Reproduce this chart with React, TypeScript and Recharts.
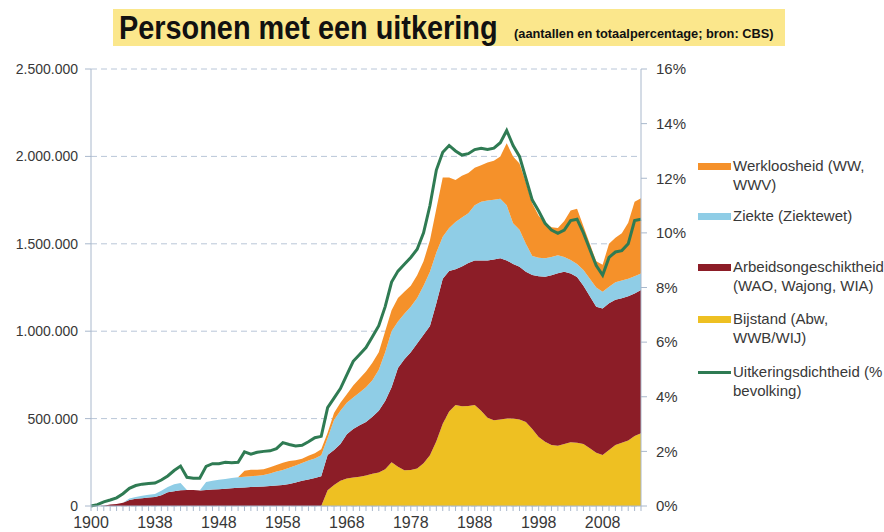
import React from 'react';
import { ComposedChart, Area, Line, XAxis, YAxis, CartesianGrid } from 'recharts';

// Categories (the first ten are unevenly spaced early years)
const years = [
  '1900', '1905', '1910', '1915', '1920', '1925', '1930', '1935', '1936', '1937',
  '1938', '1939', '1940', '1941', '1942', '1943', '1944', '1945', '1946', '1947',
  '1948', '1949', '1950', '1951', '1952', '1953', '1954', '1955', '1956', '1957',
  '1958', '1959', '1960', '1961', '1962', '1963', '1964', '1965', '1966', '1967',
  '1968', '1969', '1970', '1971', '1972', '1973', '1974', '1975', '1976', '1977',
  '1978', '1979', '1980', '1981', '1982', '1983', '1984', '1985', '1986', '1987',
  '1988', '1989', '1990', '1991', '1992', '1993', '1994', '1995', '1996', '1997',
  '1998', '1999', '2000', '2001', '2002', '2003', '2004', '2005', '2006', '2007',
  '2008', '2009', '2010', '2011', '2012', '2013', '2014',
];

const xLabels = ['1900', '1938', '1948', '1958', '1968', '1978', '1988', '1998', '2008'];

// Values in thousands of persons
const bijstand = [
  0, 0, 0, 0, 0, 0, 0, 0, 0, 0,
  0, 0, 0, 0, 0, 0, 0, 0, 0, 0,
  0, 0, 0, 0, 0, 0, 0, 0, 0, 0,
  0, 0, 0, 0, 0, 0, 0, 90, 120, 145,
  158, 163, 168, 175, 185, 192, 210, 250, 225, 205,
  206, 215, 245, 290, 370, 470, 540, 578, 570, 572,
  578, 545, 505, 490, 495, 500, 500, 495, 480, 440,
  395, 368, 349, 345, 355, 364, 362, 355, 330, 305,
  292, 320, 349, 362, 375, 400, 416,
];

const arbeidsongeschiktheid = [
  0, 0, 2, 8, 12, 18, 35, 42, 45, 48,
  51, 62, 78, 85, 90, 92, 92, 88, 92, 95,
  96, 98, 102, 104, 106, 108, 110, 112, 114, 117,
  120, 126, 135, 145, 152, 160, 170, 202, 200, 210,
  252, 277, 294, 305, 325, 353, 390, 430, 565, 635,
  674, 715, 735, 740, 790, 830, 805, 777, 800, 818,
  827, 860, 900, 920, 922, 905, 885, 874, 860, 881,
  920, 944, 971, 987, 985, 966, 948, 905, 870, 835,
  838, 840, 831, 826, 825, 815, 820,
];

const ziekte = [
  0, 0, 0, 0, 0, 0, 8, 10, 14, 16,
  18, 25, 30, 40, 42, 0, 0, 0, 45, 50,
  54, 57, 58, 60, 61, 62, 63, 65, 72, 80,
  86, 93, 97, 101, 108, 112, 120, 97, 172, 190,
  180, 180, 188, 200, 210, 235, 280, 320, 265, 260,
  260, 260, 280, 310, 290, 240, 245, 270, 280, 285,
  315, 335, 343, 342, 341, 315, 232, 211, 160, 109,
  105, 105, 105, 103, 85, 77, 75, 90, 100, 110,
  95, 95, 100, 102, 100, 100, 94,
];

const werkloosheid = [
  0, 0, 0, 0, 0, 0, 0, 0, 0, 0,
  0, 0, 0, 0, 0, 0, 0, 0, 0, 0,
  0, 0, 0, 0, 35, 38, 35, 33, 35, 38,
  42, 38, 30, 25, 28, 30, 35, 30, 40, 45,
  50, 70, 80, 90, 100, 100, 120, 120, 135, 125,
  120, 130, 140, 180, 250, 340, 290, 240, 240, 230,
  215, 210, 217, 223, 242, 355, 383, 380, 350, 300,
  240, 203, 170, 155, 205, 283, 315, 250, 200, 150,
  155, 245, 255, 270, 320, 425, 430,
];

// Uitkeringsdichtheid, % of population
const dichtheid = [
  0, 0.05, 0.15, 0.22, 0.3, 0.45, 0.65, 0.75, 0.8, 0.82,
  0.84, 0.95, 1.1, 1.3, 1.46, 1.05, 1.02, 1.02, 1.45, 1.55,
  1.55, 1.6, 1.58, 1.6, 1.98, 1.9, 1.97, 2.0, 2.02, 2.1,
  2.32, 2.25, 2.2, 2.22, 2.35, 2.5, 2.55, 3.6, 3.95, 4.3,
  4.8, 5.3, 5.55, 5.8, 6.2, 6.6, 7.3, 8.2, 8.6, 8.85,
  9.1, 9.4, 10.0, 11.0, 12.3, 12.95, 13.2, 13.0, 12.85, 12.9,
  13.05, 13.1, 13.05, 13.1, 13.3, 13.75, 13.2, 12.8, 12.0, 11.2,
  10.8, 10.35, 10.1, 9.98, 10.1, 10.45, 10.5, 10.0, 9.4, 8.8,
  8.45, 9.1, 9.3, 9.35, 9.6, 10.45, 10.5,
];

const leftTicks = [0, 500, 1000, 1500, 2000, 2500];
const rightTicks = [0, 2, 4, 6, 8, 10, 12, 14, 16];

const COLORS = {
  werkloosheid: '#f5912a',
  ziekte: '#8fcde6',
  arbeid: '#8c1d27',
  bijstand: '#eec022',
  dichtheid: '#2f7b53',
};

const legendItems = [
  { lines: ['Werkloosheid (WW,', 'WWV)'], color: COLORS.werkloosheid, kind: 'area', y: 166 },
  { lines: ['Ziekte (Ziektewet)'], color: COLORS.ziekte, kind: 'area', y: 216 },
  { lines: ['Arbeidsongeschiktheid', '(WAO, Wajong, WIA)'], color: COLORS.arbeid, kind: 'area', y: 267 },
  { lines: ['Bijstand (Abw,', 'WWB/WIJ)'], color: COLORS.bijstand, kind: 'area', y: 319 },
  { lines: ['Uitkeringsdichtheid (%', 'bevolking)'], color: COLORS.dichtheid, kind: 'line', y: 372 },
];

const data = years.map((year, i) => ({
  year,
  bijstand: bijstand[i],
  arbeid: arbeidsongeschiktheid[i],
  ziekte: ziekte[i],
  werkloosheid: werkloosheid[i],
  dichtheid: dichtheid[i],
}));

const fmtThousands = (v: number) =>
  String(v * 1000).replace(/\B(?=(\d{3})+(?!\d))/g, '.');

const FONT = '"Liberation Sans", Arial, sans-serif';
const AXIS = '#a9b8cc';
const TEXT = '#383838';

export default function App() {
  return (
    <div style={{ position: 'absolute', left: 0, top: 0, width: 884, height: 532, background: '#fff', fontFamily: FONT }}>
      <ComposedChart
        width={884}
        height={532}
        data={data}
        margin={{ top: 69, right: 183, bottom: 0, left: 8 }}
      >
        <CartesianGrid yAxisId="left" vertical={false} stroke="#b9c6d8" strokeDasharray="6 4" />
        <XAxis
          dataKey="year"
          scale="point"
          padding={{ left: 0, right: 0 }}
          interval={0}
          height={26}
          tickSize={5}
          tickMargin={6}
          tickLine={{ stroke: AXIS }}
          axisLine={{ stroke: AXIS }}
          tick={{ fontSize: 16, fill: TEXT }}
          tickFormatter={(v: string) => (xLabels.includes(v) ? v : '')}
        />
        <YAxis
          yAxisId="left"
          domain={[0, 2500]}
          ticks={leftTicks}
          width={83}
          tickSize={6}
          tickMargin={7}
          tickLine={{ stroke: AXIS }}
          axisLine={{ stroke: AXIS }}
          tick={{ fontSize: 14, fill: TEXT }}
          tickFormatter={fmtThousands}
        />
        <YAxis
          yAxisId="right"
          orientation="right"
          domain={[0, 16]}
          ticks={rightTicks}
          width={60}
          tickSize={6}
          tickMargin={9}
          tickLine={{ stroke: AXIS }}
          axisLine={{ stroke: AXIS }}
          tick={{ fontSize: 15, fill: TEXT }}
          tickFormatter={(v: number) => `${v}%`}
        />
        <Area yAxisId="left" type="linear" dataKey="bijstand" stackId="s" fill={COLORS.bijstand} stroke="none" fillOpacity={1} isAnimationActive={false} />
        <Area yAxisId="left" type="linear" dataKey="arbeid" stackId="s" fill={COLORS.arbeid} stroke="none" fillOpacity={1} isAnimationActive={false} />
        <Area yAxisId="left" type="linear" dataKey="ziekte" stackId="s" fill={COLORS.ziekte} stroke="none" fillOpacity={1} isAnimationActive={false} />
        <Area yAxisId="left" type="linear" dataKey="werkloosheid" stackId="s" fill={COLORS.werkloosheid} stroke="none" fillOpacity={1} isAnimationActive={false} />
        <Line yAxisId="right" type="linear" dataKey="dichtheid" stroke={COLORS.dichtheid} strokeWidth={3} dot={false} isAnimationActive={false} />
      </ComposedChart>

      <svg style={{ position: 'absolute', left: 0, top: 0 }} width={884} height={60}>
        <rect x={113} y={9} width={672} height={37} fill="#fbe78c" />
        <g transform="translate(119,39) scale(0.875,1)">
          <text x={0} y={0} fontSize={33} fontWeight="bold" fill="#111" fontFamily={FONT}>
            Personen met een uitkering
          </text>
        </g>
        <text x={514} y={38} fontSize={12.8} fontWeight="bold" fill="#111" fontFamily={FONT}>
          (aantallen en totaalpercentage; bron: CBS)
        </text>
      </svg>

      {legendItems.map((item) => (
        <div key={item.lines[0]}>
          <div
            style={{
              position: 'absolute',
              left: 698,
              top: item.y - (item.kind === 'line' ? 1.5 : 3.5),
              width: 33,
              height: item.kind === 'line' ? 3 : 7,
              background: item.color,
            }}
          />
          <div
            style={{
              position: 'absolute',
              left: 733,
              top: item.y - 10,
              fontSize: 15,
              lineHeight: '19px',
              color: TEXT,
              whiteSpace: 'nowrap',
            }}
          >
            {item.lines.map((l) => (
              <div key={l}>{l}</div>
            ))}
          </div>
        </div>
      ))}
    </div>
  );
}
